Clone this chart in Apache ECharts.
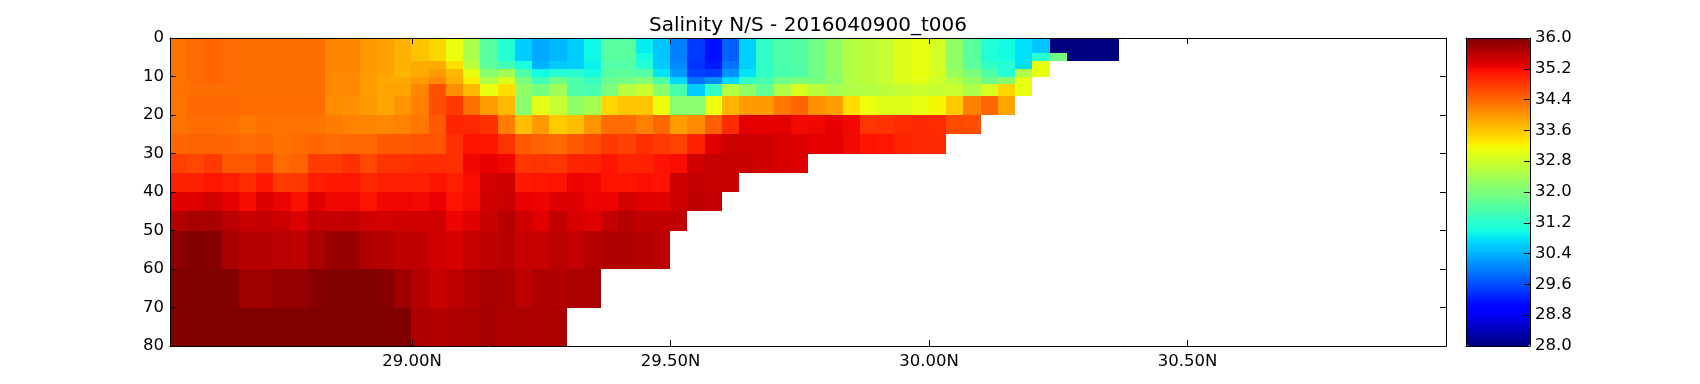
<!DOCTYPE html>
<html>
<head>
<meta charset="utf-8">
<script src="https://cdn.jsdelivr.net/npm/echarts@6/dist/echarts.min.js"></script>
<style>html,body{margin:0;padding:0;background:#fff}#c{width:1700px;height:384px}</style>
</head>
<body>
<div id="c"></div>
<script>
const titleText = 'Salinity N/S - 2016040900_t006';
const lonTicks = [29, 29.5, 30, 30.5];
const depthEdges = [0,4,6,8,10,12,15,20,25,30,35,40,45,50,60,70,80];
const lonStart = 28.532, lonStep = 0.03336;

const s00_04 = [34.3,34.38,34.42,34.38,34.35,34.35,34.35,34.35,34.35,34.15,34.15,33.98,33.92,33.78,33.62,33.46,33.08,32.45,31.65,31.15,30.6,30.33,30.44,30.6,30.95,31.65,31.65,30.85,30.55,30.0,29.44,29.12,29.76,30.63,31.28,31.54,31.6,31.89,32.2,32.54,32.62,32.74,32.98,33.05,32.86,32.2,31.65,31.15,31.0,30.75,30.55,28,28,28,28];
const s04_06 = [34.3,34.38,34.42,34.38,34.35,34.35,34.35,34.35,34.35,34.15,34.15,33.98,33.92,33.78,33.62,33.46,33.08,32.45,31.65,31.15,30.6,30.33,30.44,30.6,30.95,31.65,31.65,31.0,30.55,30.0,29.44,29.12,29.76,30.63,31.28,31.54,31.6,31.89,32.2,32.54,32.62,32.74,32.98,33.05,32.86,32.2,31.65,31.1,31.0,30.75,31.15,31.9,28,28,28];
const s06_08 = [34.3,34.38,34.42,34.38,34.35,34.35,34.35,34.35,34.35,34.15,34.15,33.98,33.92,33.78,33.82,33.82,33.4,32.6,31.7,31.43,31.05,30.4,30.58,30.63,30.9,31.6,31.6,31.15,30.58,30.08,29.4,29.2,29.9,30.63,31.28,31.54,31.6,31.89,32.2,32.54,32.62,32.74,32.98,33.05,32.86,32.2,31.7,31.28,31.15,30.75,33.05];
const s08_10 = [34.3,34.38,34.42,34.38,34.35,34.35,34.35,34.35,34.35,34.15,34.15,33.98,33.9,33.76,33.85,33.98,33.72,33.05,32.12,32.35,31.55,30.98,31.15,31.2,31.0,31.65,31.68,31.6,30.8,30.2,29.5,29.44,30.15,30.78,31.28,31.5,31.56,31.89,32.2,32.54,32.62,32.74,32.98,33.05,32.88,32.28,32.0,31.56,31.15,32.5,33.05];
const s10_12 = [34.3,34.38,34.42,34.38,34.35,34.35,34.35,34.35,34.35,34.13,34.13,33.96,33.85,33.87,33.98,34.12,33.8,33.28,32.5,32.9,31.95,31.42,31.87,31.56,31.35,31.82,31.93,32.05,31.56,30.7,29.9,30.13,30.7,31.28,31.5,31.87,32.0,31.95,32.15,32.54,32.62,32.74,32.95,33.0,32.82,32.54,32.2,31.88,32.1,33.05];
const s12_15 = [34.3,34.35,34.35,34.35,34.35,34.35,34.35,34.35,34.35,34.13,34.13,33.96,33.88,33.9,34.15,34.6,34.05,33.7,33.05,33.4,32.2,31.95,32.35,31.56,31.5,32.0,32.58,32.74,32.12,31.5,30.6,31.28,32.55,32.2,31.78,32.5,32.9,32.62,32.42,32.5,32.55,32.62,32.72,32.78,32.72,32.75,32.5,32.9,33.46,33.05];
const s15_20 = [34.3,34.4,34.4,34.4,34.37,34.37,34.37,34.37,34.37,34.1,34.07,33.98,33.88,34.03,34.2,34.62,34.8,34.33,33.95,33.7,32.12,33.0,32.74,32.2,32.42,33.46,33.62,33.62,33.12,32.12,32.12,33.1,33.75,33.98,33.98,34.27,34.43,34.05,33.95,33.4,33.1,32.95,32.95,33.05,33.18,33.58,34.2,34.42,33.88];
const s20_25 = [34.3,34.37,34.37,34.33,34.25,34.32,34.3,34.3,34.3,34.23,34.18,34.15,34.13,34.18,34.27,34.52,34.98,34.95,34.88,34.22,33.66,33.98,33.58,33.66,34.02,34.37,34.38,34.2,34.4,33.95,34.1,34.47,34.92,35.3,35.3,35.3,35.2,35.22,35.28,35.2,34.82,34.85,34.92,34.94,34.92,34.65,34.62];
const s25_30 = [34.42,34.45,34.45,34.42,34.38,34.4,34.32,34.36,34.42,34.37,34.4,34.4,34.52,34.52,34.58,34.58,34.88,35.12,35.1,34.85,34.52,34.43,34.38,34.52,34.62,34.8,34.73,34.88,34.78,34.72,35.0,35.33,35.47,35.47,35.44,35.38,35.36,35.3,35.3,35.2,35.12,35.1,34.97,34.94,34.94];
const s30_35 = [34.75,34.68,34.8,34.55,34.55,34.68,34.38,34.45,34.77,34.77,34.87,34.68,34.85,34.85,34.9,34.9,34.88,35.22,35.28,35.22,34.82,34.85,34.82,34.97,35.0,35.1,34.97,35.0,35.13,35.17,35.44,35.53,35.5,35.5,35.44,35.38,35.35];
const s35_40 = [35.0,35.0,35.1,35.03,34.92,35.07,34.78,34.8,35.03,35.07,35.1,34.95,35.03,35.03,35.03,35.13,35.03,35.17,35.42,35.47,35.07,35.1,35.13,35.25,35.22,35.13,35.13,35.14,35.13,35.47,35.53,35.5,35.5];
const s40_45 = [35.33,35.36,35.42,35.3,35.18,35.36,35.25,35.14,35.36,35.22,35.22,35.13,35.22,35.23,35.2,35.27,35.12,35.18,35.44,35.5,35.27,35.25,35.35,35.35,35.25,35.25,35.42,35.33,35.33,35.47,35.55,35.53];
const s45_50 = [35.63,35.72,35.72,35.6,35.5,35.53,35.47,35.36,35.53,35.53,35.55,35.44,35.42,35.44,35.44,35.44,35.24,35.33,35.5,35.62,35.44,35.33,35.55,35.37,35.33,35.53,35.62,35.55,35.55,35.55];
const s50_60 = [35.92,36.0,35.95,35.72,35.62,35.62,35.6,35.55,35.7,35.83,35.83,35.66,35.62,35.55,35.55,35.44,35.38,35.5,35.55,35.62,35.5,35.5,35.6,35.52,35.63,35.66,35.66,35.63,35.6];
const s60_70 = [36.0,36.0,36.0,35.97,35.77,35.77,35.86,35.86,35.95,35.98,35.98,35.98,35.95,35.77,35.63,35.5,35.58,35.65,35.72,35.7,35.58,35.67,35.65,35.7,35.7];
const s70_80 = [36.0,36.0,36.0,36.0,36.0,36.0,36.0,36.0,36.0,36.0,36.0,36.0,36.0,36.0,35.67,35.65,35.67,35.7,35.73,35.67,35.7,35.67,35.7];
const depthRows = [s00_04,s04_06,s06_08,s08_10,s10_12,s12_15,s15_20,s20_25,s25_30,s30_35,s35_40,s40_45,s45_50,s50_60,s60_70,s70_80];

// matplotlib "jet" colour ramp
function ramp(t, pts){
  for(let i=1;i<pts.length;i++){ if(t<=pts[i][0]){ const a=pts[i-1],b=pts[i]; return a[1]+(b[1]-a[1])*(t-a[0])/(b[0]-a[0]); } }
  return pts[pts.length-1][1];
}
function jet(t){
  const r=ramp(t,[[0,0],[.35,0],[.66,1],[.89,1],[1,.5]]);
  const g=ramp(t,[[0,0],[.125,0],[.375,1],[.64,1],[.91,0],[1,0]]);
  const b=ramp(t,[[0,.5],[.11,1],[.34,1],[.65,0],[1,0]]);
  return 'rgb('+[r,g,b].map(v=>Math.round(v*255)).join(',')+')';
}
const jetColors=[]; for(let i=0;i<=255;i++) jetColors.push(jet(i/255));

const cells=[];
depthRows.forEach((row,r)=>row.forEach((v,i)=>{
  cells.push([lonStart+i*lonStep, lonStart+(i+1)*lonStep, depthEdges[r], depthEdges[r+1], v]);
}));

const font='"DejaVu Sans"', black='#000';
const L=170,T=38,W=1276,H=308, CL=1466,CW=64;
const line={show:true,onZero:false,lineStyle:{color:black,width:1}};
const chart=echarts.init(document.getElementById('c'),null,{renderer:'canvas'});
chart.setOption({
  animation:false,
  backgroundColor:'#fff',
  title:{text:titleText,left:L+W/2-5,top:11,textAlign:'center',textStyle:{fontFamily:font,fontSize:20,fontWeight:'normal',color:black}},
  grid:[
    {left:L,top:T,width:W,height:H,show:false},
    {left:CL,top:T,width:CW,height:H,show:false}
  ],
  xAxis:[
    {gridIndex:0,type:'value',min:lonStart,max:31,position:'bottom',z:5,axisLine:line,splitLine:{show:false},
     axisTick:{show:true,inside:true,length:6,customValues:lonTicks,lineStyle:{color:black}},
     axisLabel:{show:true,customValues:lonTicks,formatter:v=>v.toFixed(2)+'N',fontFamily:font,fontSize:16.5,color:black,margin:7}},
    {gridIndex:0,type:'value',min:lonStart,max:31,position:'top',z:5,axisLine:line,splitLine:{show:false},
     axisTick:{show:true,inside:true,length:6,customValues:lonTicks,lineStyle:{color:black}},axisLabel:{show:false}},
    {gridIndex:1,type:'value',min:0,max:1,position:'bottom',z:5,axisLine:line,axisTick:{show:false},axisLabel:{show:false},splitLine:{show:false}},
    {gridIndex:1,type:'value',min:0,max:1,position:'top',z:5,axisLine:line,axisTick:{show:false},axisLabel:{show:false},splitLine:{show:false}}
  ],
  yAxis:[
    {gridIndex:0,type:'value',inverse:true,min:0,max:80,interval:10,position:'left',z:5,axisLine:line,splitLine:{show:false},
     axisTick:{show:true,inside:true,length:6,lineStyle:{color:black}},
     axisLabel:{fontFamily:font,fontSize:16.5,color:black,margin:6}},
    {gridIndex:0,type:'value',inverse:true,min:0,max:80,interval:10,position:'right',z:5,axisLine:line,splitLine:{show:false},
     axisTick:{show:true,inside:true,length:6,lineStyle:{color:black}},axisLabel:{show:false}},
    {gridIndex:1,type:'value',min:0,max:1,position:'left',z:5,axisLine:line,axisTick:{show:false},axisLabel:{show:false},splitLine:{show:false}},
    {gridIndex:1,type:'value',min:28,max:36,interval:0.8,position:'right',z:5,axisLine:line,splitLine:{show:false},
     axisTick:{show:true,inside:true,length:6,lineStyle:{color:black}},
     axisLabel:{formatter:v=>v.toFixed(1),fontFamily:font,fontSize:16.5,color:black,margin:5}}
  ],
  visualMap:{
    type:'continuous',min:28,max:36,dimension:4,seriesIndex:0,calculable:false,
    left:CL,top:T,itemWidth:CW,itemHeight:H,padding:0,z:1,
    inRange:{color:jetColors},text:null
  },
  series:[{
    type:'custom',coordinateSystem:'cartesian2d',xAxisIndex:0,yAxisIndex:0,z:2,
    clip:true,silent:true,
    encode:{x:[0,1],y:[2,3]},
    data:cells,
    renderItem:function(params,api){
      const p0=api.coord([api.value(0),api.value(2)]);
      const p1=api.coord([api.value(1),api.value(3)]);
      const x0=Math.round(p0[0]),x1=Math.round(p1[0]),y0=Math.round(p0[1]),y1=Math.round(p1[1]);
      return {type:'rect',shape:{x:x0,y:y0,width:x1-x0,height:y1-y0},style:{fill:api.visual('color')}};
    }
  }]
});
</script>
</body>
</html>
